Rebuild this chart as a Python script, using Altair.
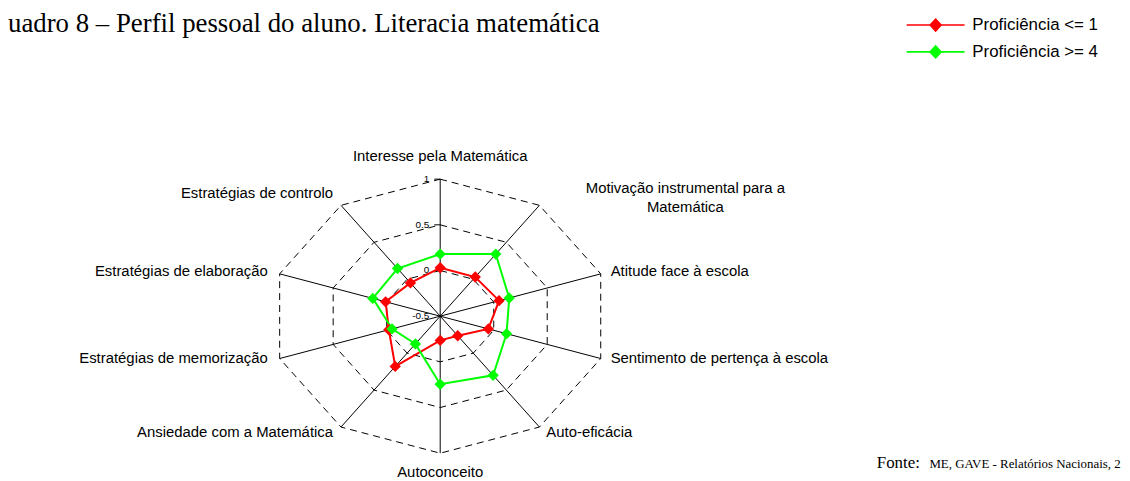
import altair as alt
import pandas as pd

# ---------------- data ----------------
categories = [
    "Interesse pela Matemática",
    "Motivação instrumental para a\nMatemática",
    "Atitude face à escola",
    "Sentimento de pertença à escola",
    "Auto-eficácia",
    "Autoconceito",
    "Ansiedade com a Matemática",
    "Estratégias de memorização",
    "Estratégias de elaboração",
    "Estratégias de controlo",
]
low_values = [0.03, 0.03, 0.05, -0.05, -0.235, -0.235, 0.18, -0.02, 0.01, -0.05]
high_values = [0.18, 0.34, 0.145, 0.12, 0.30, 0.245, -0.125, -0.05, 0.13, 0.145]
series_names = ["Proficiência <= 1", "Proficiência >= 4"]
series_colors = ["#FF0000", "#00FF00"]
ring_values = [0, 0.5, 1]
tick_values = [-0.5, 0, 0.5, 1]
tick_labels = ["-0.5", "0", "0.5", "1"]
title_text = "uadro 8 – Perfil pessoal do aluno. Literacia matemática"
source_prefix = "Fonte:"
source_text = "ME, GAVE - Relatórios Nacionais, 2"

R_MIN, R_MAX = -0.5, 1.0
N = len(categories)

# ---------------- layout ----------------
W, H = 1122, 473
CX, CY = 435.3, 308.7
PX_X, PX_Y = 170.0, 138.0
x_dom = [-CX / PX_X, (W - CX) / PX_X]
y_dom = [-(H - CY) / PX_Y, CY / PX_Y]
xs = alt.Scale(domain=x_dom, nice=False, zero=False)
ys = alt.Scale(domain=y_dom, nice=False, zero=False)

SANS = "Liberation Sans"
SERIF = "Liberation Serif"


def proj(chart):
    return chart.transform_calculate(
        r=f"(datum.value - ({R_MIN})) / ({R_MAX} - ({R_MIN}))",
        ang=f"datum.idx * 2 * PI / {N}",
    ).transform_calculate(
        px="datum.r * sin(datum.ang)",
        py="datum.r * cos(datum.ang)",
        zero="0",
    )


X = alt.X("px:Q", scale=xs, axis=None)
Y = alt.Y("py:Q", scale=ys, axis=None)

# series
rows = []
for s, vals in zip(series_names, [low_values, high_values]):
    for i in range(N + 1):
        rows.append({"series": s, "idx": i, "cat": categories[i % N], "value": vals[i % N]})
series_df = pd.DataFrame(rows)

# rings
ring_rows = []
for v in ring_values:
    for i in range(N + 1):
        ring_rows.append({"ring": v, "idx": i, "value": v})
ring_df = pd.DataFrame(ring_rows)

spoke_df = pd.DataFrame({"idx": list(range(N)), "value": [R_MAX] * N})
tick_df = pd.DataFrame({"idx": [0] * len(tick_values), "value": tick_values, "lab": tick_labels})
label_df = pd.DataFrame({"idx": list(range(N)), "value": [R_MAX] * N, "cat": categories})

LEGEND_PATH = "M-5.3,0L5.3,0M-1,0L0,-1.1L1,0L0,1.1Z"
legend = alt.Legend(
    title=None,
    orient="none",
    legendX=925.8,
    legendY=7.0,
    padding=0,
    symbolType=LEGEND_PATH,
    symbolSize=121,
    symbolStrokeWidth=1.6,
    symbolOpacity=1,
    symbolStrokeColor={"expr": "scale('color', datum.value)"},
    symbolFillColor={"expr": "scale('color', datum.value)"},
    labelFont=SANS,
    labelFontSize=17,
    labelColor="black",
    labelOffset=28.5,
    rowPadding=8,
)
color = alt.Color(
    "series:N",
    scale=alt.Scale(domain=series_names, range=series_colors),
    legend=legend,
)

rings = proj(alt.Chart(ring_df)).mark_line(
    color="black", strokeWidth=1, strokeDash=[7, 5]
).encode(x=X, y=Y, detail="ring:N", order="idx:Q")

spokes = proj(alt.Chart(spoke_df)).mark_rule(color="black", strokeWidth=1).encode(
    x=alt.X("zero:Q", scale=xs, axis=None),
    y=alt.Y("zero:Q", scale=ys, axis=None),
    x2="px:Q",
    y2="py:Q",
)

ticks = proj(alt.Chart(tick_df)).transform_filter("datum.value > -0.5").transform_calculate(
    tl=f"-6 / {PX_X}"
).mark_rule(color="black", strokeWidth=1).encode(
    x=alt.X("tl:Q", scale=xs, axis=None), x2="zero:Q", y=Y
)

tick_text = proj(alt.Chart(tick_df)).mark_text(
    align="right", baseline="middle", dx=-11, font=SANS, fontSize=10, color="black"
).encode(x=X, y=Y, text="lab:N")

lines = proj(alt.Chart(series_df)).mark_line(strokeWidth=2).encode(
    x=X, y=Y, color=color, order="idx:Q"
)
points = proj(alt.Chart(series_df)).transform_filter(f"datum.idx < {N}").mark_point(
    filled=True, shape="diamond", size=130, opacity=1
).encode(x=X, y=Y, color=color)

label_align = ["center", "center", "left", "left", "left", "center", "right", "right", "right", "right"]
label_dx = [0, 147, 10, 10, 7, 0, -8, -12, -12, -8]
label_dy = [-23, -17, -3, 0, 5, 19, 5, 0, -3, -12]
label_layers = []
for i in range(N):
    label_layers.append(
        proj(alt.Chart(label_df)).transform_filter(f"datum.idx == {i}").mark_text(
            align=label_align[i], baseline="middle", dx=label_dx[i], dy=label_dy[i],
            font=SANS, fontSize=15, color="black", lineBreak="\n", lineHeight=19,
        ).encode(x=X, y=Y, text="cat:N")
    )

one = pd.DataFrame({"k": [0]})
title = alt.Chart(one).mark_text(
    align="left", baseline="alphabetic", font=SERIF, fontSize=27, color="black"
).encode(x=alt.value(0), y=alt.value(22), text=alt.value(title_text))

src1 = alt.Chart(one).mark_text(
    align="left", baseline="alphabetic", font=SERIF, fontSize=17, color="black"
).encode(x=alt.value(875), y=alt.value(462), text=alt.value(source_prefix))
src2 = alt.Chart(one).mark_text(
    align="left", baseline="alphabetic", font=SERIF, fontSize=13, color="black"
).encode(x=alt.value(928), y=alt.value(462), text=alt.value(source_text))

chart = alt.layer(
    rings, spokes, ticks, tick_text, lines, points, *label_layers, title, src1, src2
).properties(
    width=W, height=H, autosize=alt.AutoSizeParams(type="none"), padding=0,
    background="white",
).configure_view(stroke=None)

chart.save("out.html", embed_options={"renderer": "svg", "actions": False})
